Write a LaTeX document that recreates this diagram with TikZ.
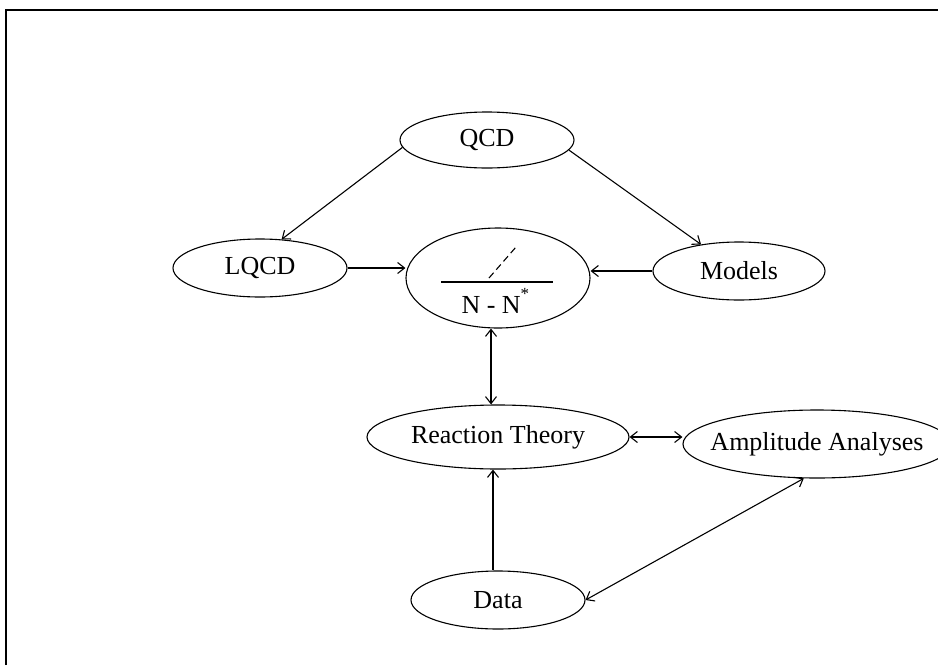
\documentclass[tikz,border=0pt]{standalone}
\usepackage{fontspec}
\setmainfont{Liberation Serif}
\usetikzlibrary{shapes.geometric,arrows.meta}
\tikzset{
  oval/.style={draw, ellipse, line width=1.1pt, inner sep=0pt},
  link/.style={line width=1.1pt, -{Straight Barb[length=7pt,width=11pt]}},
  twoway/.style={line width=1.1pt, {Straight Barb[length=7pt,width=11pt]}-{Straight Barb[length=7pt,width=11pt]}}
}
\begin{document}
\begin{tikzpicture}[x=1pt, y=-1pt, font=\fontsize{26}{30}\selectfont]
      \useasboundingbox (0,0) rectangle (938,665);
      \draw[line width=1.2pt] (6,665) -- (6,10) -- (938,10);
      \node[oval, minimum width=174pt, minimum height=56pt] (qcd) at (487,140) {QCD};
      \node[oval, minimum width=174pt, minimum height=58pt] (lqcd) at (260,268) {LQCD};
      \node[oval, minimum width=184pt, minimum height=100pt] (nn) at (498,278) {};
      \node[anchor=base west] (nnlabel) at (458,313) {N - N\raisebox{14pt}{\fontsize{17}{17}\selectfont *}};
      \node[oval, minimum width=172pt, minimum height=58pt] (models) at (739,271) {Models};
      \node[oval, minimum width=262pt, minimum height=64pt] (rt) at (498,437) {Reaction Theory};
      \node[oval, inner xsep=-30pt, minimum width=268pt, minimum height=68pt] (amp) at (817,444) {Amplitude Analyses};
      \node[oval, minimum width=174pt, minimum height=58pt] (data) at (498,600) {Data};
      \draw[line width=1.1pt] ([shift={(-57,4)}]nn.center) -- ([shift={(55,4)}]nn.center);
      \draw[line width=1.1pt, dash pattern=on 7pt off 4pt] ([shift={(-9,0)}]nn.center) -- ([shift={(18,-31)}]nn.center);
      \draw[link] (qcd.185) -- (lqcd.53);
      \draw[link] (qcd.353) -- (models.145);
      \draw[link] (lqcd.east) -- (lqcd.east -| nn.west);
      \draw[link] (models.west) -- (models.west -| nn.east);
      \draw[twoway] ([xshift=-7pt]nn.south) -- ([xshift=-7pt]rt.north);
      \draw[twoway] (rt.east) -- (rt.east -| amp.west);
      \draw[link] ([xshift=-5pt]data.north) -- ([xshift=-5pt]rt.south);
      \draw[twoway] (data.east) -- (amp.249);
\end{tikzpicture}
\end{document}
